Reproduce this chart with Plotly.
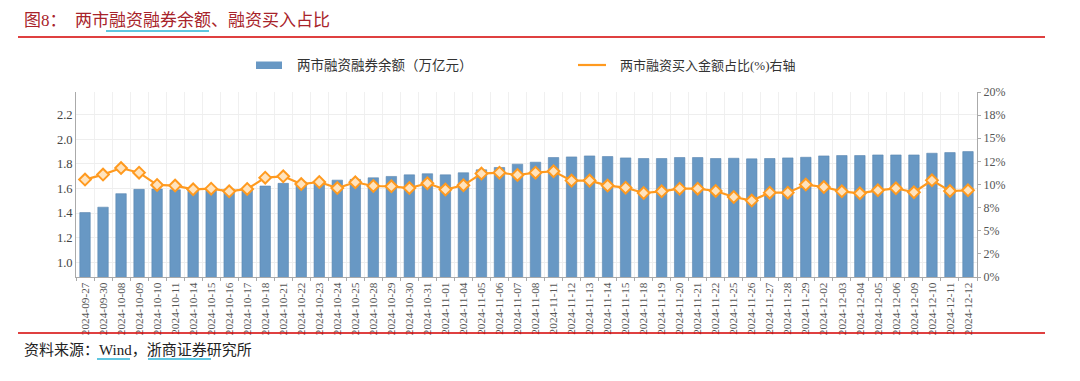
import plotly.graph_objects as go

dates = ["2024-09-27", "2024-09-30", "2024-10-08", "2024-10-09", "2024-10-10", "2024-10-11",
         "2024-10-14", "2024-10-15", "2024-10-16", "2024-10-17", "2024-10-18", "2024-10-21",
         "2024-10-22", "2024-10-23", "2024-10-24", "2024-10-25", "2024-10-28", "2024-10-29",
         "2024-10-30", "2024-10-31", "2024-11-01", "2024-11-04", "2024-11-05", "2024-11-06",
         "2024-11-07", "2024-11-08", "2024-11-11", "2024-11-12", "2024-11-13", "2024-11-14",
         "2024-11-15", "2024-11-18", "2024-11-19", "2024-11-20", "2024-11-21", "2024-11-22",
         "2024-11-25", "2024-11-26", "2024-11-27", "2024-11-28", "2024-11-29", "2024-12-02",
         "2024-12-03", "2024-12-04", "2024-12-05", "2024-12-06", "2024-12-09", "2024-12-10",
         "2024-12-11", "2024-12-12"]

balance = [1.404, 1.448, 1.558, 1.593, 1.596, 1.590, 1.595, 1.596, 1.594, 1.597, 1.620, 1.642,
           1.652, 1.655, 1.668, 1.674, 1.687, 1.698, 1.711, 1.720, 1.711, 1.728, 1.752, 1.771,
           1.798, 1.814, 1.852, 1.857, 1.865, 1.860, 1.849, 1.844, 1.844, 1.852, 1.852, 1.844,
           1.846, 1.841, 1.844, 1.849, 1.854, 1.865, 1.868, 1.868, 1.873, 1.873, 1.873, 1.887,
           1.892, 1.900]

ratio = [10.53, 11.07, 11.78, 11.28, 9.95, 9.88, 9.48, 9.55, 9.26, 9.52, 10.74, 10.88,
         10.05, 10.27, 9.62, 10.24, 9.84, 9.80, 9.62, 10.13, 9.45, 9.91, 11.18, 11.28,
         11.03, 11.28, 11.43, 10.42, 10.42, 9.88, 9.66, 9.08, 9.26, 9.55, 9.55, 9.30,
         8.65, 8.26, 9.12, 9.12, 9.99, 9.73, 9.26, 9.05, 9.37, 9.59, 9.16, 10.45,
         9.30, 9.37]

left_ticks = [1.0, 1.2, 1.4, 1.6, 1.8, 2.0, 2.2]
right_tickvals = [0, 2.5, 5, 7.5, 10, 12.5, 15, 17.5, 20]
right_ticktext = ["0%", "2%", "5%", "8%", "10%", "12%", "15%", "18%", "20%"]

bar_name = "两市融资融券余额（万亿元）"
line_name = "两市融资买入金额占比(%)右轴"

SERIF = "Liberation Serif, Noto Sans CJK SC"
BAR_COLOR = "#6898c4"
LINE_COLOR = "#ff9a1f"

fig = go.Figure()
fig.add_trace(go.Bar(
    x=dates, y=balance, name=bar_name, showlegend=False,
    marker=dict(color=BAR_COLOR, line=dict(color="#5a87b0", width=0.6)),
    yaxis="y",
))
fig.add_trace(go.Scatter(
    x=dates, y=ratio, name=line_name, mode="lines+markers", showlegend=False,
    line=dict(color=LINE_COLOR, width=2.2),
    marker=dict(symbol="diamond", size=9, color="#ffe3bd",
                line=dict(color=LINE_COLOR, width=2)),
    yaxis="y2",
))

W, H = 1080, 381
L, R, T, B = 76, 103, 92, 104
pw, ph = W - L - R, H - T - B


def px(x):
    return (x - L) / pw


def py(y):
    return (H - B - y) / ph


fig.update_layout(
    width=W, height=H,
    margin=dict(l=L, r=R, t=T, b=B, autoexpand=False),
    paper_bgcolor="white", plot_bgcolor="white",
    bargap=0.42,
    showlegend=False,
    xaxis=dict(
        type="category", range=[-0.5, len(dates) - 0.5], autorange=False,
        tickangle=-90, showgrid=True, gridcolor="#f0f0f0", gridwidth=1,
        tickson="boundaries", ticks="outside", ticklen=3, tickcolor="#aaaaaa",
        showline=True, linecolor="#aaaaaa", linewidth=1, automargin=False,
        tickfont=dict(family=SERIF, size=11.3, color="#555555"),
    ),
    yaxis=dict(
        range=[0.88, 2.385], autorange=False, tickvals=left_ticks,
        ticktext=[f"{v:.1f}" for v in left_ticks],
        showgrid=True, gridcolor="#eeeeee", zeroline=False, automargin=False,
        showline=True, linecolor="#aaaaaa", linewidth=1, ticks="",
        tickfont=dict(family=SERIF, size=12.5, color="#444444"),
    ),
    yaxis2=dict(
        range=[0, 20], autorange=False, overlaying="y", side="right", tickvals=right_tickvals,
        ticktext=right_ticktext, showgrid=False, zeroline=False, automargin=False,
        showline=True, linecolor="#aaaaaa", linewidth=1, ticks="outside", ticklen=3,
        tickcolor="#aaaaaa",
        tickfont=dict(family=SERIF, size=12, color="#555555"),
    ),
)

# Legend (drawn to match the reference's wide swatches)
fig.add_shape(type="rect", xref="paper", yref="paper", x0=px(256), x1=px(282),
              y0=py(69), y1=py(61.5), fillcolor=BAR_COLOR, line=dict(width=0))
fig.add_annotation(text=bar_name, xref="paper", yref="paper", x=px(295), y=py(65.5),
                   xanchor="left", yanchor="middle", showarrow=False,
                   font=dict(family=SERIF, size=13.5, color="#333333"))
fig.add_shape(type="line", xref="paper", yref="paper", x0=px(578), x1=px(606),
              y0=py(65), y1=py(65), line=dict(color=LINE_COLOR, width=2.2))
fig.add_annotation(text=line_name, xref="paper", yref="paper", x=px(618), y=py(65.5),
                   xanchor="left", yanchor="middle", showarrow=False,
                   font=dict(family=SERIF, size=13, color="#333333"))

# Title, source, and decorative rules
fig.add_annotation(text="图8：  两市融资融券余额、融资买入占比", xref="paper", yref="paper",
                   x=px(22), y=py(20), xanchor="left", yanchor="middle", showarrow=False,
                   font=dict(family=SERIF, size=17, color="#a8232a"))
fig.add_annotation(text="资料来源：Wind，浙商证券研究所", xref="paper", yref="paper",
                   x=px(22), y=py(350), xanchor="left", yanchor="middle", showarrow=False,
                   font=dict(family=SERIF, size=15, color="#222222"))
fig.add_shape(type="line", xref="paper", yref="paper", x0=px(18), x1=px(1045),
              y0=py(37), y1=py(37), line=dict(color="#d40000", width=1.5))
fig.add_shape(type="line", xref="paper", yref="paper", x0=px(18), x1=px(1045),
              y0=py(333), y1=py(333), line=dict(color="#d40000", width=1.5))
for x0, x1, y in [(106, 209, 31), (97, 130, 359), (148, 211, 359)]:
    fig.add_shape(type="line", xref="paper", yref="paper", x0=px(x0), x1=px(x1),
                  y0=py(y), y1=py(y), line=dict(color="#2bb5d6", width=1.5))

fig.write_html("out.html", config={"displayModeBar": False},
               post_script="document.body.style.margin='0';")
